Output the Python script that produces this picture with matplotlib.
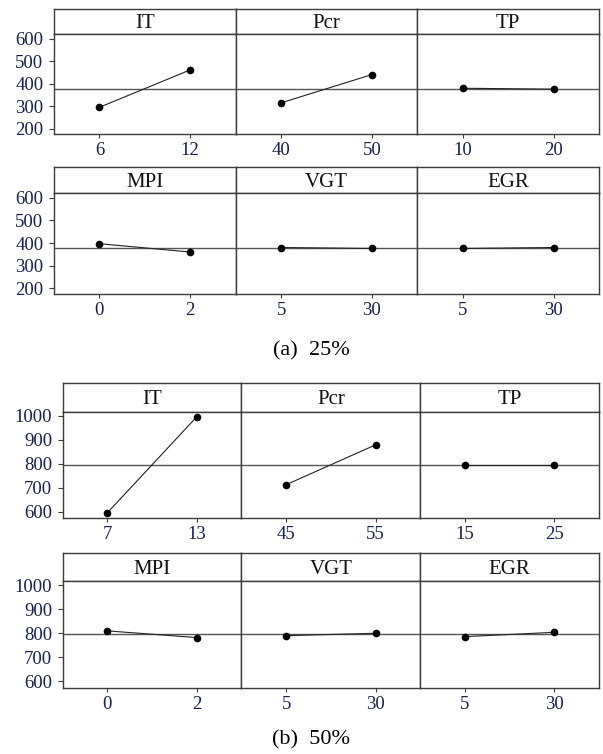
import matplotlib
matplotlib.use('Agg')
import matplotlib.pyplot as plt

# main effects data (level means)
factors = ['IT', 'Pcr', 'TP', 'MPI', 'VGT', 'EGR']

levels_25 = [['6', '12'], ['40', '50'], ['10', '20'], ['0', '2'], ['5', '30'], ['5', '30']]
means_25 = [[295, 462], [315, 441], [380, 376], [397, 360], [380, 376], [376, 380]]
grand_25 = 378
yticks_25 = [200, 300, 400, 500, 600]

levels_50 = [['7', '13'], ['45', '55'], ['15', '25'], ['0', '2'], ['5', '30'], ['5', '30']]
means_50 = [[596, 996], [713, 879], [796, 796], [810, 782], [790, 800], [786, 804]]
grand_50 = 796
yticks_50 = [600, 700, 800, 900, 1000]

W, H = 603, 754
plt.rcParams['font.family'] = ['Liberation Serif', 'DejaVu Serif']

fig = plt.figure(figsize=(W / 100, H / 100), dpi=100)

FRAME = '#3c3c3c'
TICKCOL = '#15204e'
TITLE_PT = 15
TICK_PT = 13.5


def box(x0, x1, y_top, y_bot):
    # pixel box -> figure fraction rect
    return [x0 / W, 1 - y_bot / H, (x1 - x0) / W, (y_bot - y_top) / H]


def draw_block(levels, means, grand, yticks, ylim, left, rows, caption, cap_y):
    right = 599
    pw = (right - left) / 3
    for k, name in enumerate(factors):
        r, c = divmod(k, 3)
        s_top, s_bot, a_bot = rows[r]
        x0 = left + c * pw
        x1 = x0 + pw

        # title strip
        st = fig.add_axes(box(x0, x1, s_top, s_bot))
        st.set_xticks([])
        st.set_yticks([])
        for sp in st.spines.values():
            sp.set_color(FRAME)
            sp.set_linewidth(1.0)
        cap_half = 0.662 * TITLE_PT * 100 / 72 / 2
        st.text(0.5, 0.5 - cap_half / (s_bot - s_top), name, ha='center',
                va='baseline', fontsize=TITLE_PT, color='#111111',
                transform=st.transAxes)

        ax = fig.add_axes(box(x0, x1, s_bot, a_bot))
        ax.axhline(grand, color='#555555', lw=1.0, zorder=1)
        ax.plot([0, 1], means[k], color='#222222', lw=0.8, zorder=2)
        ax.plot([0, 1], means[k], 'o', color='black', ms=4.5, zorder=3)
        ax.set_xlim(-0.5, 1.5)
        ax.set_ylim(*ylim)
        ax.set_xticks([0, 1])
        ax.set_xticklabels(levels[k])
        if c == 0:
            ax.set_yticks(yticks)
            ax.tick_params(axis='y', length=3.6, width=0.8, color=FRAME,
                           pad=4.0, labelsize=TICK_PT, labelcolor=TICKCOL)
        else:
            ax.set_yticks([])
        ax.tick_params(axis='x', length=2.9, width=0.8, color=FRAME,
                       pad=3.0, labelsize=TICK_PT, labelcolor=TICKCOL)
        for sp in ax.spines.values():
            sp.set_color(FRAME)
            sp.set_linewidth(1.0)

    fig.text(311 / W, 1 - cap_y / H, caption, ha='center', va='center',
             fontsize=16, color='black')


draw_block(levels_25, means_25, grand_25, yticks_25, (176, 622), 54,
           [(8.5, 34, 134), (166.5, 193, 293.5)], '(a)  25%', 351)
draw_block(levels_50, means_50, grand_50, yticks_50, (573, 1018), 62.7,
           [(383.3, 411.5, 518.3), (552.7, 581, 687.7)], '(b)  50%', 740)

fig.savefig('out.png', dpi=100)
